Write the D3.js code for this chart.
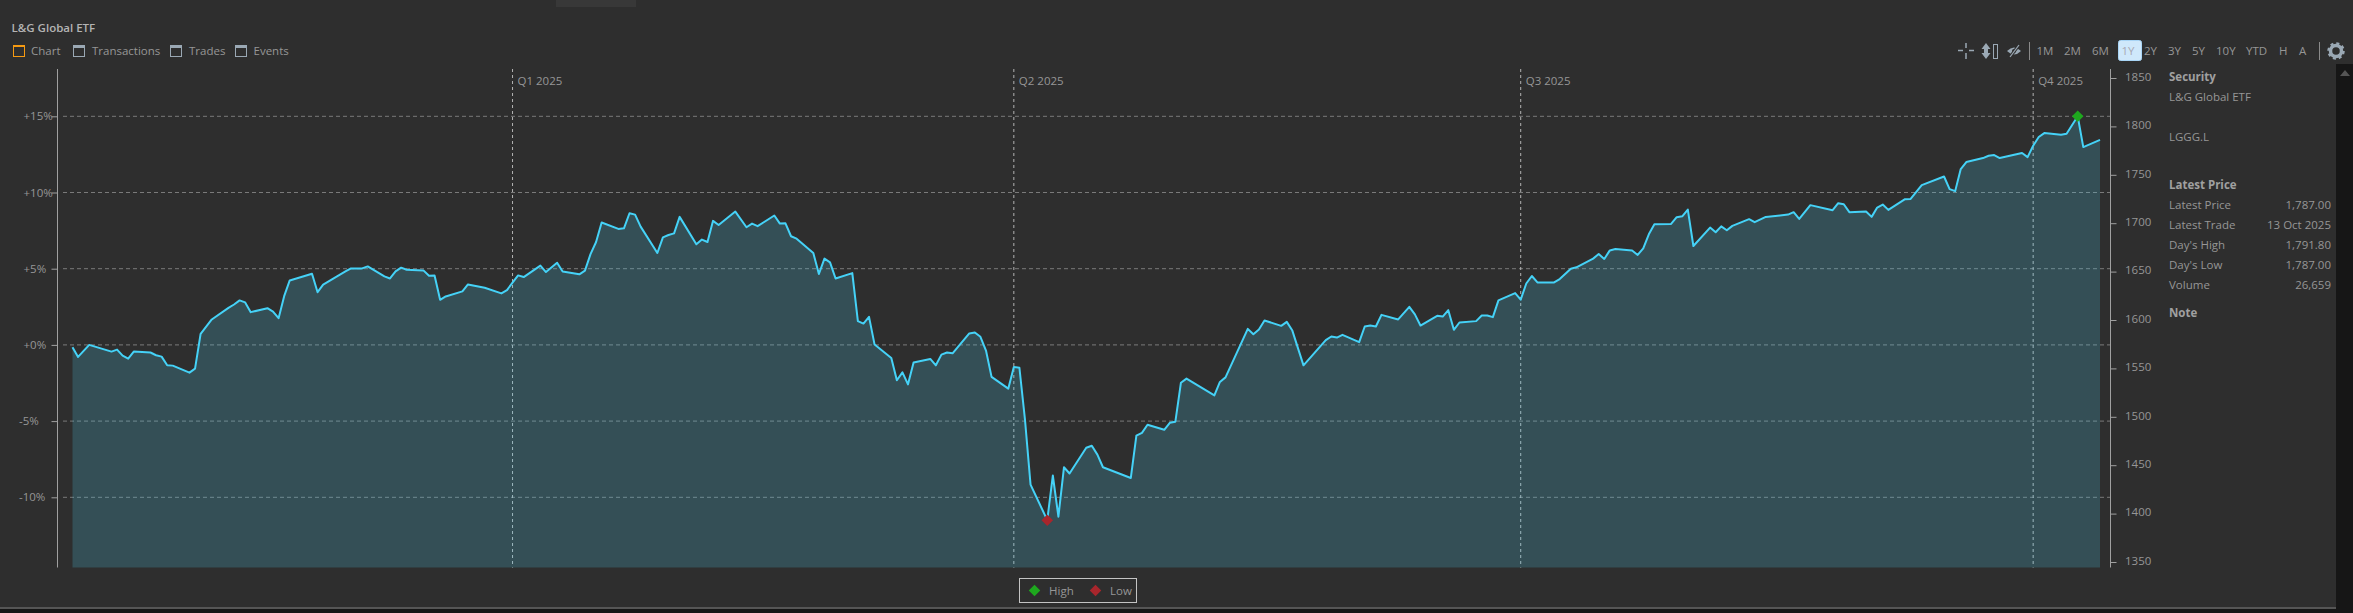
<!DOCTYPE html>
<html lang="en">

<head>
	<title>L&amp;G Global ETF</title>
	<meta charset="utf-8">
	<script src="https://d3js.org/d3.v7.min.js"></script>
	<style>
		html, body { margin: 0; padding: 0; background: #2e2e2e; overflow: hidden; }
		svg { display: block; }
		text { font-family: "Open Sans", "Noto Sans", sans-serif; font-size: 11.5px; fill: #969696; }
	</style>
</head>

<body>
	<div id="container"></div>
	<script>
		// Data. Days are counted from the first date in the series
		const startDate = Date.UTC(2024, 9, 14);

		const dayOffsets = [
			0, 1, 3, 7, 8, 9, 10, 11, 14, 15, 16, 17, 18, 21, 22, 23, 25, 28, 29, 30, 31, 32, 35, 36, 37, 38, 39,
			43, 44, 45, 49, 50, 52, 53, 56, 57, 58, 59, 60, 63, 64, 65, 66, 67, 70, 71, 74, 77, 78, 79, 80, 81,
			84, 85, 87, 88, 91, 92, 93, 94, 95, 98, 99, 100, 101, 102, 105, 106, 107, 108, 109, 112, 113, 114, 115, 116,
			119, 121, 122, 123, 126, 127, 128, 129, 130, 133, 134, 135, 136, 137, 140, 141, 142, 143, 144,
			147, 148, 149, 150, 151, 154, 155, 156, 157, 158, 161, 162, 163, 164, 165, 168, 169, 170, 171, 172,
			175, 176, 177, 178, 179, 182, 183, 184, 185, 190, 191, 192, 193, 196, 197, 198, 199, 200,
			205, 206, 207, 211, 212, 213, 214, 217, 218, 219, 221, 225, 226, 227, 228, 231, 232, 233, 234, 235,
			238, 240, 241, 242, 245, 246, 247, 248, 249, 252, 253, 254, 255, 256, 259, 260, 261, 262, 263,
			266, 267, 269, 270, 273, 274, 275, 276, 277, 280, 281, 282, 283, 284, 287, 288, 289, 290, 291,
			294, 295, 296, 297, 298, 301, 302, 304, 308, 309, 310, 312, 316, 317, 318, 319, 322, 323, 324, 325, 326,
			329, 330, 332, 336, 337, 338, 339, 340, 343, 344, 345, 346, 350, 351, 352, 353, 354, 357, 358, 360, 361, 364
		];

		const pctChange = [
			-0.15, -0.79, 0, -0.44, -0.31, -0.7, -0.9, -0.44, -0.5, -0.68, -0.77, -1.34, -1.36, -1.82, -1.56, 0.72, 1.67, 2.43, 2.65, 2.92, 2.79, 2.15, 2.41, 2.19, 1.75, 3.2, 4.23,
			4.67, 3.46, 3.95, 4.82, 5.02, 5.02, 5.15, 4.5, 4.36, 4.82, 5.07, 4.93, 4.89, 4.54, 4.56, 2.96, 3.18, 3.51, 3.97, 3.75, 3.38, 3.6, 4.08, 4.56, 4.45,
			5.2, 4.78, 5.39, 4.82, 4.63, 4.87, 5.96, 6.75, 8.03, 7.61, 7.65, 8.64, 8.55, 7.76, 6.03, 7.06, 7.21, 7.32, 8.4, 6.6, 6.91, 6.75, 8.14, 7.87,
			8.75, 7.72, 7.96, 7.79, 8.49, 7.96, 7.98, 7.13, 6.97, 6.03, 4.65, 5.66, 5.42, 4.36, 4.71, 1.56, 1.4, 1.84, 0.02,
			-0.86, -2.32, -1.8, -2.59, -1.16, -0.92, -1.34, -0.64, -0.5, -0.55, 0.75, 0.81, 0.53, -0.37, -2.1, -2.87, -1.45, -1.5, -4.91, -9.17,
			-11.5, -8.57, -11.27, -8.03, -8.44, -6.75, -6.62, -7.2, -8.03, -8.73, -5.96, -5.77, -5.24, -5.57, -5.11, -5.04, -2.48, -2.21,
			-3.31, -2.43, -2.13, 1.05, 0.7, 1.01, 1.6, 1.25, 1.51, 0.94, -1.34, 0.31, 0.55, 0.48, 0.66, 0.18, 1.21, 1.27, 1.21, 1.97,
			1.67, 2.5, 2.0, 1.27, 1.91, 1.86, 2.28, 0.99, 1.47, 1.56, 1.93, 1.93, 1.82, 2.92, 3.4, 2.97, 4.03, 4.52, 4.1,
			4.1, 4.32, 5.0, 5.09, 5.66, 5.96, 5.64, 6.2, 6.29, 6.2, 5.9, 6.34, 7.26, 7.92, 7.94, 8.38, 8.44, 8.88, 6.49,
			7.7, 7.39, 7.78, 7.52, 7.81, 8.25, 8.05, 8.4, 8.55, 8.71, 8.27, 9.17, 8.84, 9.3, 9.23, 8.71, 8.75, 8.4, 9.01, 9.21, 8.86,
			9.56, 9.58, 10.48, 11.05, 10.22, 10.09, 11.54, 12.0, 12.26, 12.41, 12.46, 12.26, 12.59, 12.32, 13.07, 13.64, 13.9, 13.79, 13.86, 15.0, 12.98, 13.45
		];

		const pctTicks = [15, 10, 5, 0, -5, -10];
		const priceTicks = [1850, 1800, 1750, 1700, 1650, 1600, 1550, 1500, 1450, 1400, 1350];
		const quarterLabels = ["Q1 2025", "Q2 2025", "Q3 2025", "Q4 2025"];
		const quarterDays = [79, 169, 260, 352];
		const tabLabels = ["Chart", "Transactions", "Trades", "Events"];
		const rangeLabels = ["1M", "2M", "6M", "1Y", "2Y", "3Y", "5Y", "10Y", "YTD", "H", "A"];
		const securityLines = ["L&G Global ETF", "LGGG.L"];
		const priceRows = ["Latest Price", "Latest Trade", "Day's High", "Day's Low", "Volume"];
		const priceValues = ["1,787.00", "13 Oct 2025", "1,791.80", "1,787.00", "26,659"];

		// Chart dimensions
		const width = 2353;
		const height = 613;
		const plot = { left: 57.5, right: 2110.5, top: 69, bottom: 567.5 };

		const svg = d3.select("#container")
			.append("svg")
			.attr("width", width)
			.attr("height", height)
			.attr("viewBox", `0 0 ${width} ${height}`);

		const dateOf = day => d3.utcDay.offset(new Date(startDate), day);
		const series = dayOffsets.map((day, i) => ({ date: dateOf(day), pct: pctChange[i] }));

		// Scales
		const xScale = d3.scaleUtc()
			.domain([dateOf(0), dateOf(364)])
			.range([72.5, 2100]);

		const yScale = d3.scaleLinear()
			.domain([15, -10])
			.range([116.3, 497.3]);

		const priceScale = d3.scaleLinear()
			.domain([1850, 1350])
			.range([78, 562]);

		// Window chrome
		svg.append("rect")
			.attr("width", width)
			.attr("height", height)
			.attr("fill", "#2e2e2e");

		svg.append("rect")
			.attr("x", 556)
			.attr("y", 0)
			.attr("width", 80)
			.attr("height", 7)
			.attr("fill", "#383838");

		svg.append("rect")
			.attr("x", 0)
			.attr("y", 607)
			.attr("width", width)
			.attr("height", 2)
			.attr("fill", "#555555");

		svg.append("rect")
			.attr("x", 0)
			.attr("y", 609)
			.attr("width", width)
			.attr("height", 4)
			.attr("fill", "#161616");

		svg.append("rect")
			.attr("x", 2336)
			.attr("y", 64)
			.attr("width", 17)
			.attr("height", 549)
			.attr("fill", "#161616");

		svg.append("path")
			.attr("d", "M2345 70 L2350 76 L2340 76 Z")
			.attr("fill", "#555555");

		// Gridlines
		svg.append("g")
			.selectAll("line")
			.data(pctTicks)
			.join("line")
			.attr("x1", 63)
			.attr("x2", plot.right)
			.attr("y1", d => yScale(d))
			.attr("y2", d => yScale(d))
			.attr("stroke", "#7a7a7a")
			.attr("stroke-dasharray", "4 3");

		svg.append("g")
			.selectAll("line")
			.data(quarterDays)
			.join("line")
			.attr("x1", d => xScale(dateOf(d)))
			.attr("x2", d => xScale(dateOf(d)))
			.attr("y1", plot.top)
			.attr("y2", plot.bottom)
			.attr("stroke", "#b4b4b4")
			.attr("stroke-dasharray", "3 3");

		svg.append("g")
			.selectAll("text")
			.data(quarterLabels)
			.join("text")
			.attr("x", (d, i) => xScale(dateOf(quarterDays[i])) + 5)
			.attr("y", 85)
			.text(d => d);

		// Area and line
		const area = d3.area()
			.x(d => xScale(d.date))
			.y0(plot.bottom)
			.y1(d => yScale(d.pct));

		const line = d3.line()
			.x(d => xScale(d.date))
			.y(d => yScale(d.pct));

		svg.append("path")
			.datum(series)
			.attr("d", area)
			.attr("fill", "#4ec8e8")
			.attr("fill-opacity", 0.22);

		svg.append("path")
			.datum(series)
			.attr("d", line)
			.attr("fill", "none")
			.attr("stroke", "#45d2f7")
			.attr("stroke-width", 2)
			.attr("stroke-linejoin", "round");

		// High and low markers
		const high = series[d3.greatestIndex(series, d => d.pct)];
		const low = series[d3.leastIndex(series, d => d.pct)];
		const diamond = d3.symbol().type(d3.symbolDiamond2).size(85);

		[[high, "#1ea81e"], [low, "#a8262c"]].forEach(([d, color]) => {
			svg.append("path")
				.attr("d", diamond)
				.attr("transform", `translate(${xScale(d.date)}, ${yScale(d.pct)})`)
				.attr("fill", color);
		});

		// Axes
		const leftAxis = d3.axisLeft(yScale)
			.tickValues(pctTicks)
			.tickSize(6)
			.tickFormat(d => `${d < 0 ? "" : "+"}${d}%`);

		const leftGroup = svg.append("g")
			.attr("transform", `translate(${plot.left}, 0)`)
			.call(leftAxis);

		leftGroup.select(".domain").remove();
		leftGroup.selectAll("line").attr("stroke", "#a0a0a0");
		leftGroup.selectAll("text")
			.attr("x", d => d < 0 ? -38.5 : -34)
			.attr("text-anchor", "start")
			.attr("fill", null);

		svg.append("line")
			.attr("x1", plot.left)
			.attr("x2", plot.left)
			.attr("y1", plot.top)
			.attr("y2", plot.bottom)
			.attr("stroke", "#a0a0a0");

		const rightAxis = d3.axisRight(priceScale)
			.tickValues(priceTicks)
			.tickSize(6)
			.tickFormat(d => d);

		const rightGroup = svg.append("g")
			.attr("transform", `translate(${plot.right}, 0)`)
			.call(rightAxis);

		rightGroup.select(".domain").remove();
		rightGroup.selectAll("line").attr("stroke", "#a0a0a0");
		rightGroup.selectAll("text")
			.attr("x", 14.5)
			.attr("dy", "0.2em")
			.attr("fill", null);

		svg.append("line")
			.attr("x1", plot.right)
			.attr("x2", plot.right)
			.attr("y1", plot.top)
			.attr("y2", plot.bottom)
			.attr("stroke", "#a0a0a0");

		// Legend
		svg.append("rect")
			.attr("x", 1019.5)
			.attr("y", 578.5)
			.attr("width", 117)
			.attr("height", 24)
			.attr("fill", "none")
			.attr("stroke", "#c4c4c4");

		[["High", "#1ea81e", 1034.5, 1049], ["Low", "#a8262c", 1095.5, 1110]].forEach(([label, color, mx, tx]) => {
			svg.append("path")
				.attr("d", diamond)
				.attr("transform", `translate(${mx}, 590.5)`)
				.attr("fill", color);
			svg.append("text")
				.attr("x", tx)
				.attr("y", 595)
				.text(label);
		});

		// Title and tabs
		svg.append("text")
			.attr("x", 11.5)
			.attr("y", 32)
			.attr("font-weight", 600)
			.style("fill", "#b4b4b4")
			.text("L&G Global ETF");

		const tabIconX = [13, 73, 170, 235];
		const tabTextX = [31, 92, 189, 253.5];

		tabLabels.forEach((label, i) => {
			const color = i === 0 ? "#f59a12" : "#9aa8b4";
			svg.append("rect")
				.attr("x", tabIconX[i] + 0.5)
				.attr("y", 45.5)
				.attr("width", 11)
				.attr("height", 11)
				.attr("fill", "none")
				.attr("stroke", color);
			svg.append("rect")
				.attr("x", tabIconX[i])
				.attr("y", 45)
				.attr("width", 12)
				.attr("height", i === 0 ? 2 : 3)
				.attr("fill", color);
			svg.append("text")
				.attr("x", tabTextX[i])
				.attr("y", 55)
				.text(label);
		});

		// Toolbar on the right
		const toolColor = "#9aa8b4";
		const toolbar = svg.append("g");

		toolbar.append("path")
			.attr("d", "M1958 50.5 H1963 M1969 50.5 H1974 M1966 43 V48 M1966 53 V59")
			.attr("stroke", toolColor)
			.attr("stroke-width", 1.5);

		toolbar.append("path")
			.attr("d", "M1986 43 L1990.5 49 H1988 V53 H1990.5 L1986 59 L1981.5 53 H1984 V49 H1981.5 Z")
			.attr("fill", toolColor);

		toolbar.append("rect")
			.attr("x", 1993.5)
			.attr("y", 44.5)
			.attr("width", 4)
			.attr("height", 14)
			.attr("fill", "none")
			.attr("stroke", toolColor);

		toolbar.append("path")
			.attr("d", "M2007 51 Q2014 44 2021 51 Q2014 58 2007 51 Z")
			.attr("fill", toolColor);

		toolbar.append("circle")
			.attr("cx", 2014)
			.attr("cy", 51)
			.attr("r", 2)
			.attr("fill", "#2e2e2e");

		toolbar.append("path")
			.attr("d", "M2010 57 L2019 45")
			.attr("stroke", "#2e2e2e")
			.attr("stroke-width", 3);

		toolbar.append("path")
			.attr("d", "M2010 57 L2019 45")
			.attr("stroke", toolColor)
			.attr("stroke-width", 1.2);

		toolbar.selectAll("line.sep")
			.data([2029.5, 2319.5])
			.join("line")
			.attr("class", "sep")
			.attr("x1", d => d)
			.attr("x2", d => d)
			.attr("y1", 42)
			.attr("y2", 60)
			.attr("stroke", "#8a8a8a");

		toolbar.append("rect")
			.attr("x", 2118.5)
			.attr("y", 40.5)
			.attr("width", 23)
			.attr("height", 20)
			.attr("rx", 2)
			.attr("fill", "#cfe8fb")
			.attr("stroke", "#a8d4f5");

		const rangeX = [2036.5, 2064, 2092, 2121.5, 2144, 2168, 2192, 2216, 2246, 2279, 2299];

		rangeLabels.forEach((label, i) => {
			toolbar.append("text")
				.attr("x", rangeX[i])
				.attr("y", 55)
				.style("fill", label === "1Y" ? "#a8a8b4" : "#969696")
				.text(label);
		});

		toolbar.append("circle")
			.attr("cx", 2336)
			.attr("cy", 51)
			.attr("r", 5.5)
			.attr("fill", "none")
			.attr("stroke", toolColor)
			.attr("stroke-width", 3.5);

		toolbar.append("circle")
			.attr("cx", 2336)
			.attr("cy", 51)
			.attr("r", 7.5)
			.attr("fill", "none")
			.attr("stroke", toolColor)
			.attr("stroke-width", 2.5)
			.attr("stroke-dasharray", "3 2.9");

		// Security panel
		const panelX = 2169;
		const panelRight = 2331;

		const panelHeading = (label, y) => svg.append("text")
			.attr("x", panelX)
			.attr("y", y)
			.attr("font-weight", 700)
			.style("fill", "#a0a0a0")
			.text(label);

		panelHeading("Security", 81);
		panelHeading("Latest Price", 189);
		panelHeading("Note", 317);

		securityLines.forEach((label, i) => {
			svg.append("text")
				.attr("x", panelX)
				.attr("y", 101 + i * 40)
				.text(label);
		});

		priceRows.forEach((label, i) => {
			svg.append("text")
				.attr("x", panelX)
				.attr("y", 209 + i * 20)
				.text(label);
			svg.append("text")
				.attr("x", panelRight)
				.attr("y", 209 + i * 20)
				.attr("text-anchor", "end")
				.text(priceValues[i]);
		});
	</script>
</body>

</html>
